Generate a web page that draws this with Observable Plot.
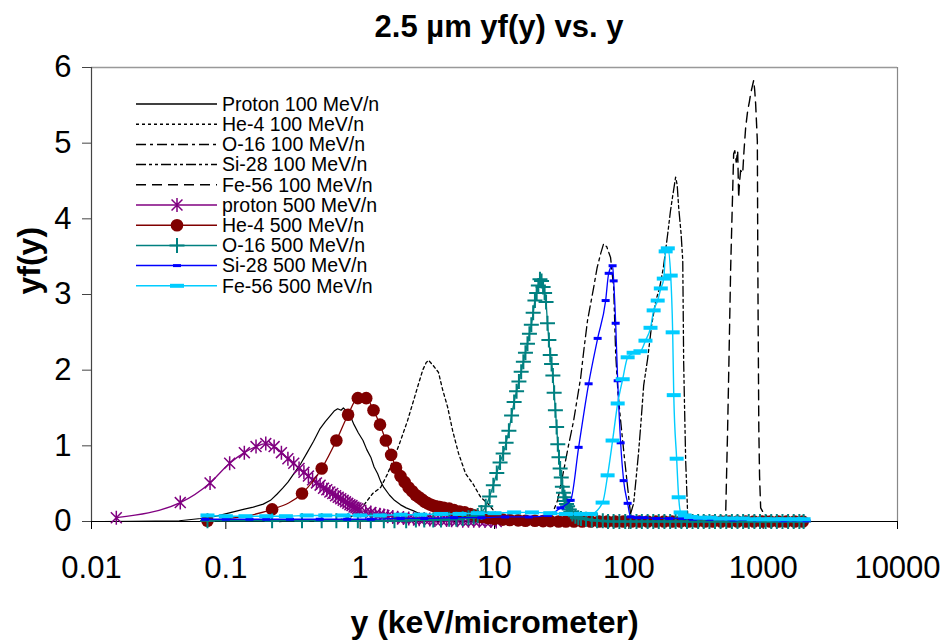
<!DOCTYPE html>
<html><head><meta charset="utf-8">
<script src="https://cdn.jsdelivr.net/npm/d3@7"></script>
<script src="https://cdn.jsdelivr.net/npm/@observablehq/plot@0.6"></script>
<style>
body{margin:0;background:#fff;}
#wrap{position:relative;width:947px;height:644px;font-family:"Liberation Sans",Arial,sans-serif;background:#fff;}
#title{height:50px;width:947px;box-sizing:border-box;padding-left:51px;padding-top:4px;text-align:center;font-weight:bold;font-size:31px;line-height:45px;}
#legend{position:absolute;left:0;top:0;pointer-events:none;}
</style></head><body>
<div id="wrap"><div id="title">2.5 µm yf(y) vs. y</div><div id="chart"></div><svg id="legend" width="947" height="644"></svg></div>
<script>
const xTickValues = [0.01, 0.1, 1, 10, 100, 1000, 10000];
const yTickValues = [0, 1, 2, 3, 4, 5, 6];
const xTitle = "y (keV/micrometer)";
const yTitle = "yf(y)";
const seriesNames = ["Proton 100 MeV/n","He-4 100 MeV/n","O-16 100 MeV/n","Si-28 100 MeV/n","Fe-56 100 MeV/n",
  "proton 500 MeV/n","He-4 500 MeV/n","O-16 500 MeV/n","Si-28 500 MeV/n","Fe-56 500 MeV/n"];

const proton100 = [[0.012,0],[0.02,0.003],[0.03,0.006],[0.045,0.01],[0.065,0.04],[0.085,0.07],[0.11,0.12],[0.135,0.16],[0.16,0.19],[0.19,0.23],[0.215,0.28],[0.24,0.36],[0.265,0.44],[0.29,0.52],[0.32,0.63],[0.36,0.76],[0.4,0.9],[0.45,1.06],[0.5,1.22],[0.55,1.32],[0.6,1.4],[0.64,1.46],[0.68,1.49],[0.72,1.47],[0.75,1.5],[0.79,1.46],[0.82,1.45],[0.86,1.36],[0.9,1.28],[0.97,1.17],[1.05,1.07],[1.12,0.95],[1.2,0.85],[1.27,0.72],[1.35,0.63],[1.42,0.53],[1.5,0.45],[1.65,0.35],[1.8,0.28],[2.0,0.22],[2.2,0.18],[2.5,0.14],[2.8,0.1],[3.2,0.07],[3.6,0.05],[4.2,0.03],[5,0.02],[6.5,0.01],[9,0.005],[12,0]];
const he4_100 = [[0.25,0],[0.4,0.005],[0.55,0.01],[0.7,0.02],[0.85,0.06],[1.0,0.15],[1.1,0.25],[1.24,0.37],[1.42,0.45],[1.6,0.63],[1.8,0.85],[2.0,1.07],[2.25,1.33],[2.5,1.6],[2.7,1.8],[2.92,2.0],[3.1,2.1],[3.23,2.13],[3.5,2.06],[3.83,1.97],[4.1,1.75],[4.48,1.51],[4.88,1.2],[5.4,0.9],[6.1,0.63],[6.9,0.5],[7.9,0.32],[8.9,0.24],[9.8,0.15],[10.8,0.08],[12,0.04],[14,0.01],[18,0]];
const o16_100 = [[12,0],[18,0.005],[24,0.02],[26.2,0.05],[29.5,0.28],[32.7,0.67],[35.5,1.0],[38.8,1.33],[43.8,1.9],[46.5,2.3],[49.3,2.66],[54.7,3.09],[58,3.35],[61.7,3.54],[64.9,3.67],[68.5,3.63],[73.1,3.49],[77.1,3.09],[79.8,2.22],[83,1.7],[86.9,1.33],[92,0.9],[98,0.45],[103,0.1],[110,0.02],[130,0.005],[180,0]];
const si28_100 = [[70,0],[90,0.005],[103,0.1],[108.6,0.24],[113,0.55],[118,0.9],[123,1.3],[129,1.8],[138,2.15],[148,2.6],[158,2.9],[170,3.1],[181,3.36],[195,3.81],[204,4.1],[212,4.3],[223,4.55],[229,4.45],[235,4.15],[245,3.8],[252,3.45],[256,2.1],[260,1.5],[265,0.8],[274,0.1],[290,0.02],[330,0.005],[400,0]];
const fe56_100 = [[350,0],[450,0.005],[508,0.02],[526,0.1],[544,1.24],[554,1.96],[573,3.36],[593,4.37],[603,4.86],[615,4.9],[630,4.75],[646,4.9],[657,4.28],[668,4.5],[680,4.64],[704,4.6],[720,4.9],[741,5.21],[767,5.43],[790,5.55],[808,5.66],[830,5.75],[850,5.83],[865,5.7],[879,5.52],[905,5.03],[912,3.5],[918,2.56],[928,1.24],[940,0.6],[958,0.18],[1000,0.12],[1043,0.1],[1080,0.05],[1140,0.02],[1300,0]];

const proton500 = [[0.0153,0.05],[0.0458,0.25],[0.0763,0.51],[0.1068,0.77],[0.1373,0.91],[0.1678,0.99],[0.1983,1.03],[0.2288,0.99],[0.2593,0.91],[0.2898,0.83],[0.3203,0.77],[0.3508,0.7],[0.3813,0.65],[0.4118,0.6],[0.4423,0.55],[0.4728,0.51],[0.5033,0.48],[0.5338,0.44],[0.5643,0.42],[0.5948,0.39],[0.6253,0.37],[0.6558,0.34],[0.6863,0.32],[0.7168,0.3],[0.7473,0.28],[0.7778,0.26],[0.8083,0.24],[0.8388,0.22],[0.8693,0.21],[0.8998,0.19],[0.9303,0.18],[0.9608,0.17],[0.9913,0.15],[1.1,0.13],[1.2,0.12],[1.3,0.1],[1.4,0.09],[1.5,0.08],[1.6,0.07],[1.75,0.06],[1.9,0.05],[2.1,0.045],[2.3,0.04],[2.5,0.035],[2.75,0.03],[3.0,0.03],[3.3,0.025],[3.6,0.02],[4.0,0.02],[4.4,0.02],[4.8,0.015],[5.3,0.015],[5.8,0.01],[6.4,0.01],[7.0,0.01],[7.7,0.01],[8.5,0.005],[9.4,0.005],[10.3,0]];
const he4_500 = [[0.073,0.01],[0.221,0.16],[0.369,0.37],[0.517,0.7],[0.665,1.07],[0.813,1.41],[0.961,1.63],[1.109,1.63],[1.257,1.47],[1.405,1.28],[1.553,1.07],[1.701,0.88],[1.849,0.71],[1.997,0.6],[2.145,0.52],[2.293,0.45],[2.441,0.4],[2.589,0.35],[2.737,0.32],[2.885,0.29],[3.033,0.26],[3.181,0.24],[3.329,0.225],[3.477,0.21],[3.625,0.2],[3.773,0.195],[3.921,0.19],[4.2,0.18],[4.6,0.17],[5,0.15],[5.5,0.13],[6,0.12],[6.6,0.1],[7.2,0.08],[8,0.06],[9,0.045],[10,0.035],[11.5,0.025],[13,0.02],[15,0.015],[17,0.01],[20,0.01],[23,0.005],[26,0.005],[30,0],[34,0],[39,0],[45,0],[52,0],[60,0],[69,0],[79,0],[91,0],[105,0],[120,0],[138,0],[159,0],[183,0],[210,0],[242,0],[278,0],[320,0],[368,0],[423,0],[487,0],[560,0],[644,0],[741,0],[852,0],[980,0],[1127,0],[1296,0],[1490,0],[1714,0],[1971,0]];
const o16_500 = [[0.073,0.01],[0.221,0.01],[0.369,0.01],[0.517,0.01],[0.665,0.01],[0.813,0.01],[0.961,0.01],[1.2,0.01],[1.5,0.01],[1.8,0.01],[2.2,0.01],[2.6,0.02],[3.0,0.02],[3.5,0.02],[4.0,0.02],[4.6,0.03],[5.2,0.03],[5.8,0.04],[6.4,0.05],[7.0,0.06],[7.5,0.08],[8.0,0.12],[8.6,0.2],[9.2,0.33],[9.8,0.48],[10.4,0.64],[11.0,0.78],[11.6,0.9],[12.2,1.04],[12.8,1.2],[13.4,1.4],[14.0,1.58],[14.6,1.72],[15.2,1.85],[15.8,1.98],[16.4,2.11],[17.0,2.23],[17.6,2.35],[18.2,2.48],[18.8,2.6],[19.4,2.76],[20.0,2.92],[20.6,3.02],[21.2,3.12],[21.8,3.2],[22.4,3.18],[23.0,3.1],[23.6,3.02],[24.2,2.9],[24.8,2.62],[25.4,2.4],[26.0,2.2],[26.6,2.08],[27.2,1.93],[27.8,1.7],[28.4,1.47],[29.0,1.25],[29.6,1.02],[30.2,0.85],[30.8,0.7],[31.4,0.58],[32.0,0.46],[32.6,0.38],[33.2,0.32],[33.8,0.27],[34.4,0.23],[35.0,0.2],[36.0,0.16],[37.0,0.13],[38,0.1],[40,0.07],[42,0.05],[44,0.04],[48,0.03],[53,0.02],[58,0.01],[64,0.01],[70,0],[77,0],[85,0],[94,0],[103,0],[114,0],[125,0],[138,0],[152,0],[167,0],[184,0],[203,0],[223,0],[246,0],[271,0],[298,0],[328,0],[361,0],[398,0],[438,0],[482,0],[531,0],[585,0],[644,0],[709,0],[781,0],[860,0],[947,0],[1043,0],[1148,0],[1264,0],[1392,0],[1533,0],[1688,0],[1859,0],[2000,0]];
const si28_500 = [[0.07,0.03],[0.1,0.03],[0.15,0.03],[0.2,0.03],[0.3,0.03],[0.5,0.03],[0.8,0.03],[1.2,0.03],[2,0.04],[3,0.04],[5,0.05],[8,0.05],[12,0.06],[18,0.06],[25,0.08],[31,0.18],[36.9,0.28],[42.3,0.98],[50.2,1.82],[58.6,2.42],[67.2,2.92],[70.8,3.28],[75.7,3.38],[77.1,3.18],[79.8,2.62],[82.6,1.86],[86.9,1.04],[91.5,0.54],[98,0.24],[103,0.06],[115,0.05],[130,0.05],[160,0.04],[200,0.04],[250,0.04],[300,0.03],[400,0.03],[600,0.02],[900,0.02],[1400,0.01],[2100,0.01]];
const fe56_500 = [[0.073,0.08],[0.1,0.07],[0.14,0.07],[0.2,0.07],[0.28,0.07],[0.4,0.08],[0.55,0.08],[0.75,0.08],[1.0,0.08],[1.4,0.08],[2,0.09],[2.8,0.09],[4,0.1],[5.5,0.1],[7.5,0.11],[10,0.11],[14,0.12],[19,0.12],[26,0.11],[34,0.1],[44,0.1],[52,0.1],[63.8,0.25],[69.5,0.61],[75.7,1.07],[82.6,1.56],[90,1.88],[98,2.17],[108.6,2.23],[122,2.25],[133,2.39],[145,2.56],[153,2.79],[164,2.92],[173,3.08],[182,3.21],[188,3.57],[195,3.61],[205,3.25],[212,2.5],[216,1.67],[227,0.83],[235,0.32],[243,0.12],[260,0.08],[290,0.06],[340,0.05],[400,0.05],[480,0.04],[580,0.04],[700,0.04],[850,0.03],[1000,0.03],[1200,0.03],[1450,0.03],[1750,0.03],[2000,0.03]];

const seriesData = [proton100, he4_100, o16_100, si28_100, fe56_100, proton500, he4_500, o16_500, si28_500, fe56_500];

// marker shapes
const rad = (size) => Math.sqrt(size / Math.PI);
const starSym = {draw(c, s){const r = rad(s), d = r*0.78; c.moveTo(0,-r); c.lineTo(0,r); c.moveTo(-d,-d); c.lineTo(d,d); c.moveTo(-d,d); c.lineTo(d,-d);}};
const plusSym = {draw(c, s){const r = rad(s); c.moveTo(-r,0); c.lineTo(r,0); c.moveTo(0,-r); c.lineTo(0,r);}};
const dashSym = {draw(c, s){const r = rad(s); c.moveTo(-r,0); c.lineTo(r,0);}};

const styles = [
  {stroke:"#000", dash:null, sw:1.2},
  {stroke:"#000", dash:"3,3", sw:1.3},
  {stroke:"#000", dash:"10,4,3,4", sw:1.3},
  {stroke:"#000", dash:"10,3,3,3,3,3", sw:1.3},
  {stroke:"#000", dash:"10,6", sw:1.4},
  {stroke:"#800080", sw:1.3, sym:starSym, r:7, mfill:"none", msw:1.5},
  {stroke:"#800000", sw:1.3, sym:"circle", r:6.3, mfill:"#800000", msw:0},
  {stroke:"#008080", sw:1.3, sym:plusSym, r:7.5, mfill:"none", msw:2},
  {stroke:"#0000FF", sw:1.3, sym:dashSym, r:4, mfill:"none", msw:3},
  {stroke:"#00CCFF", sw:1.4, sym:dashSym, r:7, mfill:"none", msw:4}
];

const marks = [
  Plot.ruleY([6], {stroke:"#999", strokeWidth:1.5}),
  Plot.ruleX([10000], {stroke:"#888", strokeWidth:1.2}),
  Plot.ruleX([0.01], {stroke:"#444", strokeWidth:1.2}),
  Plot.ruleY([0], {stroke:"#000", strokeWidth:1.2}),
  Plot.axisX(xTickValues, {tickSize:8, tickPadding:26, fontSize:31, tickFormat:d=>String(d), label:null, stroke:"#000"}),
  Plot.axisY(yTickValues, {tickSize:9, tickPadding:11, fontSize:31, tickFormat:d=>String(d), label:null, stroke:"#444"}),
  Plot.text([xTitle], {frameAnchor:"bottom", dy:101, text:d=>d, fontSize:32, fontWeight:"bold", lineAnchor:"middle"}),
  Plot.text([yTitle], {frameAnchor:"left", dx:-62, rotate:-90, text:d=>d, fontSize:32, fontWeight:"bold", lineAnchor:"middle"})
];
seriesData.forEach((arr, i) => {
  const st = styles[i];
  const curve = st.sym ? "monotone-x" : "linear";
  marks.push(Plot.line(arr, {x:d=>d[0], y:d=>d[1], stroke:st.stroke, strokeWidth:st.sw, strokeDasharray:st.dash || undefined, curve}));
  if (st.sym) {
    marks.push(Plot.dot(arr, {x:d=>d[0], y:d=>d[1], symbol:st.sym, r:st.r,
      fill: st.mfill === "none" ? "none" : st.mfill,
      stroke: st.msw ? st.stroke : "none", strokeWidth: st.msw || 0}));
  }
});

const chart = Plot.plot({
  width:947, height:594,
  marginLeft:91, marginRight:50, marginTop:17, marginBottom:123,
  x:{type:"log", domain:[0.01,10000]},
  y:{domain:[0,6]},
  style:{fontFamily:'"Liberation Sans", Arial, sans-serif', background:"#fff", color:"#000", overflow:"visible"},
  marks
});
document.getElementById("chart").appendChild(chart);

// legend
const lg = d3.select("#legend");
seriesNames.forEach((name, i) => {
  const st = styles[i];
  const y = 104 + 20.2 * i;
  lg.append("line").attr("x1",136).attr("x2",217).attr("y1",y).attr("y2",y)
    .attr("stroke",st.stroke).attr("stroke-width",st.sw + 0.2)
    .attr("stroke-dasharray", st.dash || null);
  if (st.sym) {
    const type = st.sym === "circle" ? d3.symbolCircle : st.sym;
    lg.append("path").attr("transform",`translate(177,${y})`)
      .attr("d", d3.symbol(type, Math.PI*st.r*st.r)())
      .attr("fill", st.mfill).attr("stroke", st.msw ? st.stroke : "none").attr("stroke-width", st.msw);
  }
  lg.append("text").attr("x",222).attr("y",y).attr("dy","0.35em")
    .attr("font-family",'"Liberation Sans", Arial, sans-serif').attr("font-size",19.5).attr("fill","#000").text(name);
});
</script></body></html>
